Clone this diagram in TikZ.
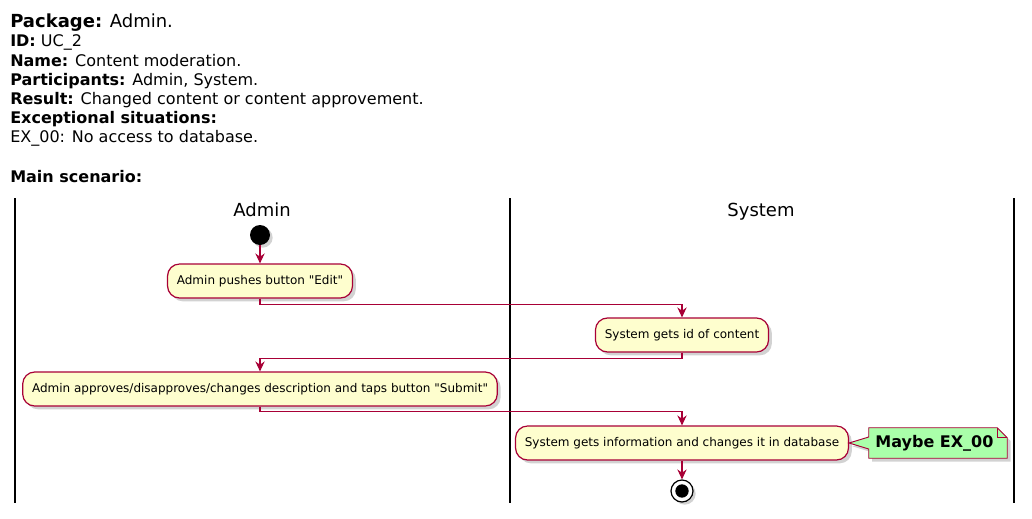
\documentclass[tikz,border=0pt]{standalone}
\usepackage{fontspec}
\setmainfont{DejaVu Sans}[Ligatures=TeXOff]
\usetikzlibrary{%
  arrows.meta,%
  calc,%
  shadows%
}
\definecolor{umlred}{HTML}{A80036}
\definecolor{umlfill}{HTML}{FEFECE}
\definecolor{notegreen}{HTML}{AAFFAA}
\tikzset{>={Stealth[length=7.5pt, width=7pt, inset=2.5pt]}}
\tikzset{action/.style = {draw=umlred, fill=umlfill, line width=0.9pt,
        rounded corners=9pt, minimum height=25.5pt, inner xsep=7pt,
        font=\fontsize{9}{11}\selectfont,
        drop shadow={shadow xshift=2.5pt, shadow yshift=-2.5pt, fill=black!35}},%
    flow/.style = {draw=umlred, line width=0.8pt},%
    lane/.style = {line width=1.5pt}}

\begin{document}
\begin{tikzpicture}[x=0.75pt, y=-0.75pt]
        \useasboundingbox (0,0) rectangle (1032,518);
        % header
        \node[anchor=base west, inner sep=0, font=\fontsize{13.5}{16}\selectfont]
        (pkg) at (10,27) {\textbf{Package:} Admin.};
        \foreach \y/\txt in {46/{\textbf{ID:} UC\_2},
            66/{\textbf{Name:} Content moderation.},
            85/{\textbf{Participants:} Admin, System.},
            104/{\textbf{Result:} Changed content or content approvement.},
            123/{\textbf{Exceptional situations:}},
            142/{EX\_00: No access to database.},
            182/{\textbf{Main scenario:}}}
          \node[anchor=base west, inner sep=0, font=\fontsize{12}{14}\selectfont]
          at (10,\y) {\txt};
        % swimlanes
        \draw[lane] (15,198) -- (15,503);
        \draw[lane] (510,198) -- (510,503);
        \draw[lane] (1014,198) -- (1014,503);
        \node[anchor=base, font=\fontsize{13.5}{16}\selectfont] (admin) at (262,216) {Admin};
        \node[anchor=base, font=\fontsize{13.5}{16}\selectfont] (system) at (761,216) {System};
        % activities
        \node[circle, fill=black, inner sep=0, minimum size=15pt,
        drop shadow={shadow xshift=2pt, shadow yshift=-2pt, fill=black!35}]
        (start) at (260,235) {};
        \node[action] (edit) at (260,281) {Admin pushes button "Edit"};
        \node[action] (getid) at (682,335) {System gets id of content};
        \node[action] (approve) at (260,389)
        {Admin approves/disapproves/changes description and taps button "Submit"};
        \node[action] (update) at (682,443)
        {System gets information and changes it in database};
        \node[circle, draw=black, fill=white, line width=0.9pt, inner sep=0,
        minimum size=16.5pt,
        drop shadow={shadow xshift=2pt, shadow yshift=-2pt, fill=black!35}]
        (stop) at (682,491) {};
        \fill (stop) circle (5pt);
        % note
        \node[inner sep=0, minimum width=103.5pt, minimum height=22.5pt] (note) at (938,443) {};
        \draw[umlred, fill=notegreen, line width=0.7pt,
        drop shadow={shadow xshift=2.5pt, shadow yshift=-2.5pt, fill=black!35}]
        (note.north west) -- ($(note.west)+(0,-6)$) -- (update.east)
        -- ($(note.west)+(0,6)$) -- (note.south west) -- (note.south east)
        -- ($(note.north east)+(0,10)$) -- ($(note.north east)+(-10,0)$) -- cycle;
        \draw[umlred, line width=0.7pt] ($(note.north east)+(-10,0)$)
        -- ($(note.north east)+(-10,10)$) -- ($(note.north east)+(0,10)$);
        \node[font=\bfseries\fontsize{12}{14}\selectfont, anchor=west]
        at ($(note.west)+(2,0)$) {Maybe EX\_00};
        % connectors
        \draw[flow,->] (start) -- (edit);
        \draw[flow,->] (edit.south) -- ++(0,6) -| (getid.north);
        \draw[flow,->] (getid.south) -- ++(0,6) -| (approve.north);
        \draw[flow,->] (approve.south) -- ++(0,5) -| (update.north);
        \draw[flow,->] (update) -- (stop);
      \end{tikzpicture}
\end{document}
